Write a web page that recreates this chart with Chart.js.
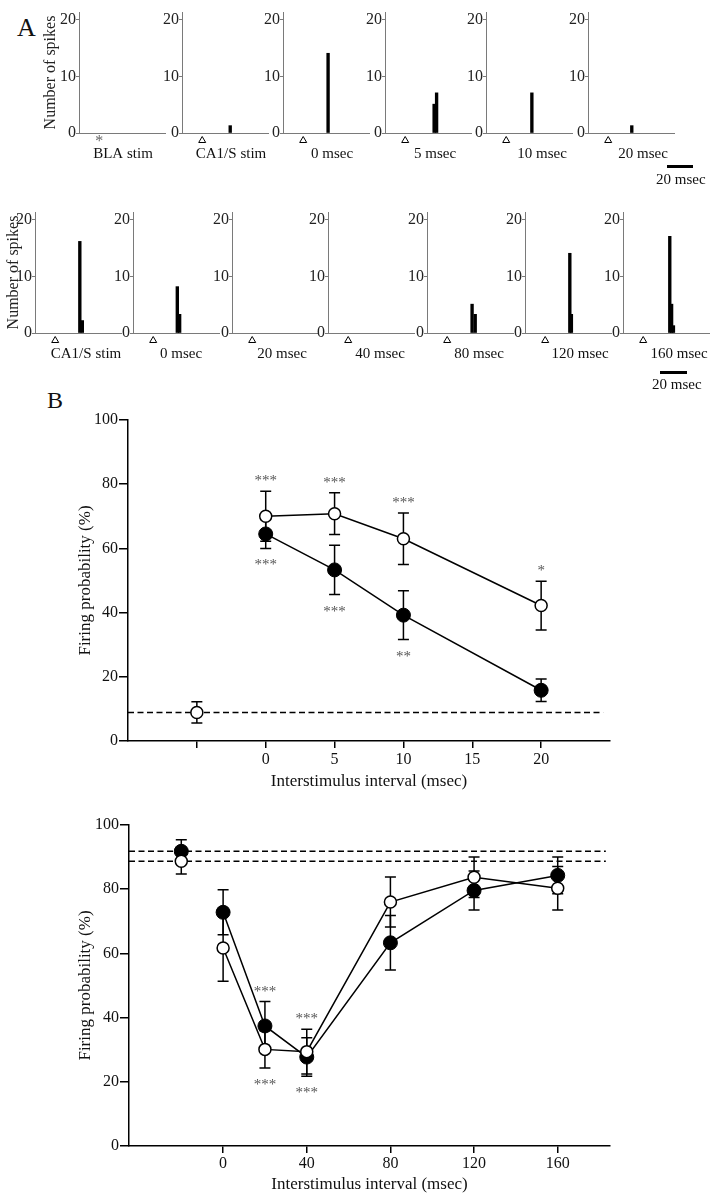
<!DOCTYPE html>
<html>
<head>
<meta charset="utf-8">
<script src="https://cdn.jsdelivr.net/npm/chart.js@4.4.0/dist/chart.umd.min.js"></script>
<style>
  body { margin: 0; background: #fff; }
  #fig { position: relative; width: 725px; height: 1199px; font-family: "Liberation Serif", "Times New Roman", serif; color: #111; }
  .txt { position: absolute; line-height: 1; white-space: nowrap; }
  .scalebar { position: absolute; height: 3px; background: #000; }
</style>
</head>
<body>
<div id="fig"></div>
<script>
// ---- Panel A: spike histograms (bin time in msec, spike count) ----
const stimTime = 15.5;               // stimulus onset inside each sweep
const histTicks = [0, 10, 20];
const histMax = 21.4;
const histSpan = 66;                 // msec shown per sweep

const topLabels = ['BLA stim', 'CA1/S stim', '0 msec', '5 msec', '10 msec', '20 msec'];
const topMarkers = ['star', 'triangle', 'triangle', 'triangle', 'triangle', 'triangle'];
const topBinTimes = [[], [37], [34.6], [37.7, 39.6], [35.2], [33.6]];
const topCounts = [[], [1.3], [14.1], [5.1, 7.1], [7.1], [1.3]];

const botLabels = ['CA1/S stim', '0 msec', '20 msec', '40 msec', '80 msec', '120 msec', '160 msec'];
const botBinTimes = [[34.4, 36.3], [34, 35.8], [], [], [34.6, 37], [34.4, 35.6], [35.9, 37.3, 38.7]];
const botCounts = [[16.2, 2.2], [8.2, 3.3], [], [], [5.1, 3.3], [14.1, 3.3], [17.1, 5.1, 1.3]];

// ---- Panel B upper: short interstimulus intervals ----
const shortX = [0, 5, 10, 20];
const shortOpen = [70, 70.8, 63, 42.2];
const shortOpenErr = [7.8, 6.5, 8, 7.6];
const shortFilled = [64.5, 53.3, 39.2, 15.8];
const shortFilledErr = [4.5, 7.7, 7.6, 3.5];
const shortBaseX = -5;
const shortBaseOpen = 8.9;
const shortBaseOpenErr = 3.3;
const shortTicks = [-5, 0, 5, 10, 15, 20];
const shortTickLabels = ['', '0', '5', '10', '15', '20'];
const shortSigX = [0, 5, 10, 20];
const shortSigAbove = ['***', '***', '***', '*'];
const shortSigBelow = ['***', '***', '**', ''];

// ---- Panel B lower: long interstimulus intervals ----
const longX = [0, 20, 40, 80, 120, 160];
const longOpen = [61.7, 30.1, 29.4, 76, 83.7, 80.3];
const longOpenErr = [10.4, 5.8, 7, 7.8, 6.3, 6.8];
const longFilled = [72.8, 37.4, 27.7, 63.3, 79.6, 84.3];
const longFilledErr = [7, 7.6, 6, 8.5, 6.1, 5.7];
const longBaseX = -20;
const longBaseOpen = 88.7;
const longBaseOpenErr = 4;
const longBaseFilled = 91.8;
const longBaseFilledErr = 3.6;
const longTicks = [0, 40, 80, 120, 160];
const longTickLabels = ['0', '40', '80', '120', '160'];
const longSigX = [20, 40];
const longSigAbove = ['***', '***'];
const longSigBelow = ['***', '***'];

const rateTicks = [0, 20, 40, 60, 80, 100];

Chart.defaults.font.family = '"Liberation Serif", "Times New Roman", serif';
Chart.defaults.color = '#111';
Chart.defaults.animation = false;
Chart.defaults.plugins.legend.display = false;
Chart.defaults.plugins.tooltip.enabled = false;

const fig = document.getElementById('fig');
const AXIS_GREY = '#7a7a7a';

function addCanvas(left, top, w, h) {
  const c = document.createElement('canvas');
  c.width = w; c.height = h;
  c.style.cssText = `position:absolute;left:${left}px;top:${top}px;width:${w}px;height:${h}px`;
  fig.appendChild(c);
  return c;
}

function addText(text, left, top, size) {
  const d = document.createElement('div');
  d.className = 'txt';
  d.style.cssText = `left:${left}px;top:${top}px;font-size:${size}px`;
  d.textContent = text;
  fig.appendChild(d);
  return d;
}

// stimulus marker and sweep label under each histogram
const histDecor = {
  id: 'histDecor',
  afterDraw(chart, args, o) {
    const { ctx, chartArea: a } = chart;
    const x = chart.scales.x.getPixelForValue(stimTime);
    const y = a.bottom + 7;
    ctx.save();
    if (o.marker === 'star') {
      ctx.fillStyle = '#666';
      ctx.font = '16px "Liberation Serif"';
      ctx.textAlign = 'center';
      ctx.textBaseline = 'middle';
      ctx.fillText('*', x, y + 2);
    } else {
      ctx.beginPath();
      ctx.moveTo(x, y - 3.5);
      ctx.lineTo(x + 3.5, y + 2.5);
      ctx.lineTo(x - 3.5, y + 2.5);
      ctx.closePath();
      ctx.fillStyle = '#fff';
      ctx.fill();
      ctx.strokeStyle = '#000';
      ctx.lineWidth = 1;
      ctx.stroke();
    }
    ctx.fillStyle = '#111';
    ctx.font = '15px "Liberation Serif"';
    ctx.textAlign = 'center';
    ctx.textBaseline = 'middle';
    ctx.fillText(o.label, (a.left + a.right) / 2 + o.shift, a.bottom + 21);
    ctx.restore();
  }
};

const HIST_W = 86, HIST_H = 121, HIST_PAD = 12, HIST_FOOT = 32, HIST_RIGHT = 14;

function spikeHist(axisX, plotTop, axisW, label, shift, times, counts, marker, yTitle) {
  const c = addCanvas(axisX - axisW, plotTop - HIST_PAD, axisW + HIST_W + HIST_RIGHT, HIST_PAD + HIST_H + HIST_FOOT);
  new Chart(c, {
    type: 'bar',
    data: {
      datasets: [{
        data: times.map((t, i) => ({ x: t, y: counts[i] })),
        backgroundColor: '#000',
        barThickness: 2.7,
        grouped: false
      }]
    },
    options: {
      responsive: false,
      layout: { padding: { top: HIST_PAD, right: HIST_RIGHT, bottom: 0, left: 0 } },
      scales: {
        x: {
          type: 'linear', min: 0, max: histSpan, offset: false,
          ticks: { display: false },
          grid: { display: false },
          border: { color: AXIS_GREY, width: 1 },
          afterFit: s => { s.height = HIST_FOOT; }
        },
        y: {
          min: 0, max: histMax,
          afterBuildTicks: s => { s.ticks = histTicks.map(v => ({ value: v })); },
          ticks: { padding: 0, font: { size: 16 }, color: '#222' },
          grid: { drawOnChartArea: false, tickLength: 3, color: AXIS_GREY },
          border: { color: AXIS_GREY, width: 1 },
          title: yTitle ? { display: true, text: yTitle, font: { size: 16 }, padding: 0, color: '#222' } : { display: false },
          afterFit: s => { s.width = axisW; }
        }
      },
      plugins: { histDecor: { marker, label, shift } }
    },
    plugins: [histDecor]
  });
}

// top row
const topAxisX = [79, 182, 283, 385, 486, 588];
const topShift = [1, 6, 6, 7, 13, 12];
topLabels.forEach((lab, i) => {
  spikeHist(topAxisX[i], 12, i === 0 ? 38 : 24, lab, topShift[i], topBinTimes[i], topCounts[i], topMarkers[i],
    i === 0 ? 'Number of spikes' : null);
});

// bottom row
const botAxisX = [35, 133, 232, 328, 427, 525, 623];
const botShift = [8, 5, 7, 9, 9, 12, 13];
botLabels.forEach((lab, i) => {
  spikeHist(botAxisX[i], 212, i === 0 ? 31 : 24, lab, botShift[i], botBinTimes[i], botCounts[i], 'triangle',
    i === 0 ? 'Number of spikes' : null);
});

// ---- Panel B helpers ----
const errorBars = {
  id: 'errorBars',
  beforeDatasetsDraw(chart) {
    const ctx = chart.ctx, ys = chart.scales.y;
    ctx.save();
    ctx.strokeStyle = '#000';
    ctx.lineWidth = 1.5;
    chart.data.datasets.forEach((ds, i) => {
      if (!ds.errors) return;
      chart.getDatasetMeta(i).data.forEach((pt, j) => {
        const v = ds.data[j].y, e = ds.errors[j];
        const hi = ys.getPixelForValue(v + e), lo = ys.getPixelForValue(v - e);
        ctx.beginPath();
        ctx.moveTo(pt.x, hi); ctx.lineTo(pt.x, lo);
        ctx.moveTo(pt.x - 5.5, hi); ctx.lineTo(pt.x + 5.5, hi);
        ctx.moveTo(pt.x - 5.5, lo); ctx.lineTo(pt.x + 5.5, lo);
        ctx.stroke();
      });
    });
    ctx.restore();
  }
};

const sigMarks = {
  id: 'sigMarks',
  afterDatasetsDraw(chart, args, o) {
    const ctx = chart.ctx, xs = chart.scales.x, ys = chart.scales.y;
    const series = chart.data.datasets.filter(d => d.errors && d.showLine);
    ctx.save();
    ctx.fillStyle = '#555';
    ctx.font = '15px "Liberation Serif"';
    ctx.textAlign = 'center';
    ctx.textBaseline = 'alphabetic';
    o.x.forEach((xv, k) => {
      let hi = -Infinity, lo = Infinity;
      series.forEach(d => {
        const j = d.data.findIndex(p => p.x === xv);
        if (j < 0) return;
        hi = Math.max(hi, d.data[j].y + d.errors[j]);
        lo = Math.min(lo, d.data[j].y - d.errors[j]);
      });
      const px = xs.getPixelForValue(xv);
      if (o.above[k]) ctx.fillText(o.above[k], px, ys.getPixelForValue(hi) - 13 + 7);
      if (o.below[k]) ctx.fillText(o.below[k], px, ys.getPixelForValue(lo) + 14 + 7);
    });
    ctx.restore();
  }
};

const pts = (xs, ys) => xs.map((x, i) => ({ x, y: ys[i] }));

function openStyle() {
  return { borderColor: '#000', borderWidth: 1.5, pointRadius: 6, pointBackgroundColor: '#fff', pointBorderColor: '#000', pointBorderWidth: 1.5 };
}
function filledStyle() {
  return { borderColor: '#000', borderWidth: 1.5, pointRadius: 7, pointBackgroundColor: '#000', pointBorderColor: '#000', pointBorderWidth: 1 };
}
function dashed(y, xMin, xMax) {
  return { data: [{ x: xMin, y }, { x: xMax, y }], showLine: true, borderColor: '#000', borderWidth: 1.5, borderDash: [6, 3.5], pointRadius: 0 };
}

function ratePlot(cfg) {
  const c = addCanvas(71, cfg.top, 654, cfg.height);
  new Chart(c, {
    type: 'scatter',
    data: { datasets: cfg.datasets },
    options: {
      responsive: false,
      layout: { padding: { top: 25, right: 115, bottom: 0, left: 0 } },
      scales: {
        x: {
          type: 'linear', min: cfg.xMin, max: cfg.xMax,
          afterBuildTicks: s => { s.ticks = cfg.ticks.map(v => ({ value: v })); },
          ticks: { padding: cfg.tickPad, font: { size: 16 }, color: '#111', maxRotation: 0, autoSkip: false,
                   callback: (v) => cfg.tickLabels[cfg.ticks.indexOf(v)] },
          grid: { drawOnChartArea: false, tickLength: 7, color: '#000', lineWidth: 1.5 },
          border: { color: '#000', width: 1.5 },
          title: { display: true, text: 'Interstimulus interval (msec)', font: { size: 17 }, color: '#111', padding: { top: 0, bottom: cfg.titlePad } },
          afterFit: s => { s.height = cfg.foot; }
        },
        y: {
          min: 0, max: 100,
          afterBuildTicks: s => { s.ticks = rateTicks.map(v => ({ value: v })); },
          ticks: { padding: 1, font: { size: 16 }, color: '#111' },
          grid: { drawOnChartArea: false, tickLength: 9, color: '#000', lineWidth: 1.5 },
          border: { color: '#000', width: 1.5 },
          title: { display: true, text: 'Firing probability (%)', font: { size: 17 }, color: '#111', padding: { top: 4, bottom: 0 } },
          afterFit: s => { s.width = cfg.axisW; }
        }
      },
      plugins: { sigMarks: cfg.sig }
    },
    plugins: [errorBars, sigMarks]
  });
}

// B upper
ratePlot({
  top: 395, height: 405, axisW: 57, foot: 59, tickPad: 2, titlePad: 8,
  xMin: -10, xMax: 25, ticks: shortTicks, tickLabels: shortTickLabels,
  sig: { x: shortSigX, above: shortSigAbove, below: shortSigBelow },
  datasets: [
    Object.assign({ data: pts(shortX, shortOpen), errors: shortOpenErr, showLine: true }, openStyle()),
    Object.assign({ data: pts(shortX, shortFilled), errors: shortFilledErr, showLine: true }, filledStyle()),
    Object.assign({ data: [{ x: shortBaseX, y: shortBaseOpen }], errors: [shortBaseOpenErr], showLine: false }, openStyle()),
    dashed(shortBaseOpen, -10, 24.5)
  ]
});

// B lower
ratePlot({
  top: 800, height: 399, axisW: 58, foot: 53, tickPad: 1, titlePad: 4,
  xMin: -45, xMax: 185, ticks: longTicks, tickLabels: longTickLabels,
  sig: { x: longSigX, above: longSigAbove, below: longSigBelow },
  datasets: [
    Object.assign({ data: pts(longX, longOpen), errors: longOpenErr, showLine: true }, openStyle()),
    Object.assign({ data: pts(longX, longFilled), errors: longFilledErr, showLine: true }, filledStyle()),
    Object.assign({ data: [{ x: longBaseX, y: longBaseOpen }], errors: [longBaseOpenErr], showLine: false }, openStyle()),
    Object.assign({ data: [{ x: longBaseX, y: longBaseFilled }], errors: [longBaseFilledErr], showLine: false }, filledStyle()),
    dashed(longBaseFilled, -45, 183),
    dashed(longBaseOpen, -45, 183)
  ]
});

// panel letters and time scale bars
addText('A', 17, 15, 26);
addText('B', 47, 388, 24);
const sb1 = document.createElement('div'); sb1.className = 'scalebar';
sb1.style.cssText += 'left:667px;top:165px;width:26px;';
fig.appendChild(sb1);
addText('20 msec', 656, 172, 15);
const sb2 = document.createElement('div'); sb2.className = 'scalebar';
sb2.style.cssText += 'left:660px;top:371px;width:27px;';
fig.appendChild(sb2);
addText('20 msec', 652, 377, 15);
</script>
</body>
</html>
